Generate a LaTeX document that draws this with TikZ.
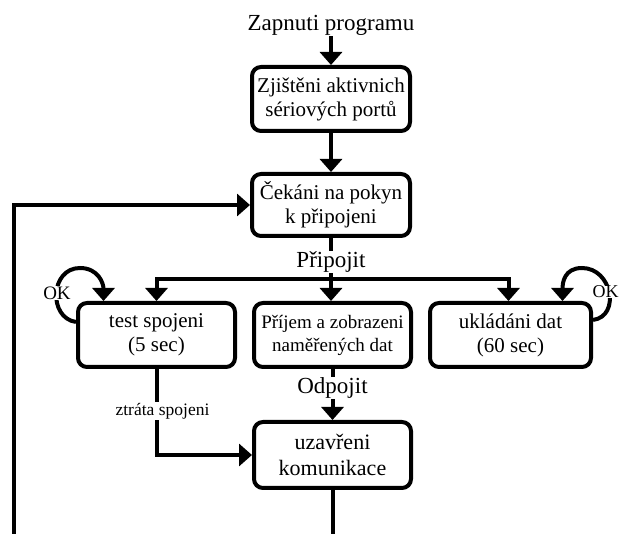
\documentclass[tikz,border=0pt]{standalone}
\usepackage{fontspec}
\setmainfont{Liberation Serif}
\usetikzlibrary{arrows.meta}
\begin{document}
\begin{tikzpicture}[x=1pt,y=-1pt,
  ln/.style={line width=4pt},
  arr/.style={ln,-{Triangle[length=13pt,width=22pt]}},
  box/.style={draw,line width=4pt,rounded corners=9pt,align=center,inner sep=0pt,
    font=\fontsize{21}{24}\selectfont},
  lbl/.style={fill=white,inner sep=1pt,font=\fontsize{23}{25}\selectfont},
  small/.style={fill=white,inner sep=1pt,font=\fontsize{17.5}{19}\selectfont},
  oklbl/.style={fill=white,inner sep=0.5pt,font=\fontsize{19}{21}\selectfont}]
\useasboundingbox[fill=white] (0,0) rectangle (619,534);

\node[inner sep=1pt,font=\fontsize{23}{25}\selectfont] (title) at (331,25) {Zapnuti programu};
\node[box,minimum width=158pt,minimum height=64pt] (b1) at (331,99)
  {Zjištěni aktivnich\\sériových portů};
\node[box,minimum width=158pt,minimum height=62pt] (b2) at (331,205)
  {Čekáni na pokyn\\k připojeni};
\node[box,minimum width=157pt,minimum height=64pt] (test) at (156.5,335)
  {test spojeni\\(5 sec)};
\node[box,minimum width=157pt,minimum height=64pt,font=\fontsize{19}{23}\selectfont] (mid) at (332.5,335)
  {Příjem a zobrazeni\\naměřených dat};
\node[box,minimum width=161pt,minimum height=64pt] (right) at (510.5,335)
  {ukládáni dat\\(60 sec)};
\node[box,minimum width=157pt,minimum height=66pt,font=\fontsize{22}{26}\selectfont] (uz) at (332.5,455)
  {uzavřeni\\komunikace};

\coordinate (bar) at (331,279);
\coordinate (bl) at (14,540);
\coordinate (bb) at (332.5,540);
\coordinate (okLtop) at (80,268);
\coordinate (okRtop) at (582,268);

\draw[arr] (title) -- (b1);
\draw[arr] (b1) -- (b2);
\draw[ln] (b2) -- (bar);
\node[lbl] (pripojit) at (331,262) {Připojit};
\draw[arr] (bar) -| (test.north);
\draw[arr] (bar) -- (mid.north -| bar);
\draw[arr] (bar) -| ([xshift=-2pt]right.north);

\draw[arr] (mid) -- (uz);
\node[lbl] (odpojit) at (332.5,388) {Odpojit};

\draw[arr] (test.south) |- (uz.west);
\node[small] (ztrata) at (162.5,411) {ztráta spojeni};

\draw[arr] (bl) |- (b2.west);
\draw[ln] (uz) -- (bb);

\draw[arr] ([yshift=13pt]test.west) .. controls +(-28,-4) and +(-30,0) .. (okLtop)
  .. controls +(18,0) and +(0,-18) .. ([xshift=-53pt]test.north);
\node[oklbl] (okL) at (57,293) {OK};
\draw[arr] ([yshift=15pt]right.east) .. controls +(28,-4) and +(30,0) .. (okRtop)
  .. controls +(-18,0) and +(0,-18) .. ([xshift=52pt]right.north);
\node[oklbl,inner sep=0pt,font=\fontsize{18}{20}\selectfont] (okR) at (605.5,292) {OK};
\end{tikzpicture}
\end{document}
